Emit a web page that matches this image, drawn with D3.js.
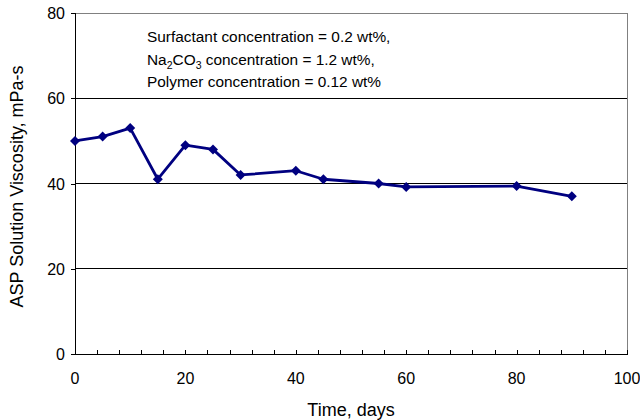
<!DOCTYPE html>
<html>
<head>
<meta charset="utf-8">
<script src="https://cdn.jsdelivr.net/npm/d3@7"></script>
<style>
  html, body { margin: 0; padding: 0; background: #fff; }
  svg { display: block; font-family: "Liberation Sans", Arial, sans-serif; }
</style>
</head>
<body>
<svg id="chart" width="640" height="420"></svg>
<script>
// Elapsed time (days) and measured ASP solution viscosity (mPa-s)
const days      = [0, 5, 10, 15, 20, 25, 30, 40, 45, 55, 60, 80, 90];
const viscosity = [50, 51, 53, 41, 49, 48, 42, 43, 41, 40, 39.2, 39.4, 37];

const xTicks = [0, 20, 40, 60, 80, 100];
const xMinorTicks = d3.range(0, 101, 4);
const yTicks = [0, 20, 40, 60, 80];

const notes = [
  [{t: "Surfactant concentration = 0.2 wt%,"}],
  [{t: "Na"}, {t: "2", sub: true}, {t: "CO"}, {t: "3", sub: true}, {t: " concentration = 1.2 wt%,"}],
  [{t: "Polymer concentration = 0.12 wt%"}]
];

const svg = d3.select("#chart");
const m = {left: 75, right: 13, top: 13, bottom: 66};
const W = 640, H = 420;

const x = d3.scaleLinear().domain([0, 100]).range([m.left, W - m.right]);
const y = d3.scaleLinear().domain([0, 80]).range([H - m.bottom, m.top]);

// horizontal gridlines
svg.append("g").selectAll("line")
  .data(yTicks.filter(d => d > 0 && d < 80))
  .join("line")
  .attr("x1", x(0)).attr("x2", x(100))
  .attr("y1", d => y(d)).attr("y2", d => y(d))
  .attr("stroke", "#000").attr("stroke-width", 1)
  .attr("shape-rendering", "crispEdges");

// plot frame (top and right)
svg.append("path")
  .attr("d", `M${x(0)},${y(80)}H${x(100)}V${y(0)}`)
  .attr("fill", "none").attr("stroke", "#808080").attr("stroke-width", 1)
  .attr("shape-rendering", "crispEdges");

// x axis: ticks point inward
const xAxis = svg.append("g")
  .attr("transform", `translate(0,${y(0)})`)
  .call(d3.axisBottom(x).tickValues(xMinorTicks).tickSize(-4).tickFormat(""));
xAxis.select(".domain").attr("stroke", "#000").attr("shape-rendering", "crispEdges");
xAxis.selectAll(".tick line").attr("stroke", "#000").attr("shape-rendering", "crispEdges");

svg.append("g").selectAll("text")
  .data(xTicks)
  .join("text")
  .attr("x", d => x(d)).attr("y", y(0) + 30)
  .attr("text-anchor", "middle")
  .attr("font-size", 16).attr("fill", "#000")
  .text(d => d);

// y axis
const yAxis = svg.append("g")
  .attr("transform", `translate(${x(0)},0)`)
  .call(d3.axisLeft(y).tickValues(yTicks).tickSize(4).tickFormat(""));
yAxis.select(".domain").attr("stroke", "#000").attr("shape-rendering", "crispEdges");
yAxis.selectAll(".tick line").attr("stroke", "#000").attr("shape-rendering", "crispEdges");

svg.append("g").selectAll("text")
  .data(yTicks)
  .join("text")
  .attr("x", x(0) - 10).attr("y", d => y(d) + 6)
  .attr("text-anchor", "end")
  .attr("font-size", 16).attr("fill", "#000")
  .text(d => d);

// axis titles
svg.append("text")
  .attr("x", (x(0) + x(100)) / 2).attr("y", 416)
  .attr("text-anchor", "middle")
  .attr("font-size", 18).attr("fill", "#000")
  .text("Time, days");

svg.append("text")
  .attr("transform", `translate(23,${(y(0) + y(80)) / 2 + 3}) rotate(-90)`)
  .attr("text-anchor", "middle")
  .attr("font-size", 18).attr("fill", "#000")
  .text("ASP Solution Viscosity, mPa-s");

// series line and square-diamond markers
const pts = days.map((d, i) => [d, viscosity[i]]);
svg.append("path")
  .datum(pts)
  .attr("d", d3.line().x(d => x(d[0])).y(d => y(d[1])))
  .attr("fill", "none").attr("stroke", "#000080").attr("stroke-width", 2.8)
  .attr("stroke-linejoin", "round");

const squareDiamond = {
  draw(ctx, size) {
    const r = Math.sqrt(size / 2);
    ctx.moveTo(0, -r); ctx.lineTo(r, 0); ctx.lineTo(0, r); ctx.lineTo(-r, 0); ctx.closePath();
  }
};
svg.append("g").selectAll("path")
  .data(pts)
  .join("path")
  .attr("transform", d => `translate(${x(d[0])},${y(d[1])})`)
  .attr("d", d3.symbol(squareDiamond, 50))
  .attr("fill", "#000080");

// annotation block
const noteG = svg.append("g");
notes.forEach((parts, i) => {
  const t = noteG.append("text")
    .attr("x", 147).attr("y", 42 + i * 22.5)
    .attr("font-size", 15.4).attr("fill", "#000");
  parts.forEach((p, j) => {
    const s = t.append("tspan").text(p.t);
    if (p.sub) s.attr("font-size", 10.5).attr("dy", 4);
    else if (j > 0 && parts[j - 1].sub) s.attr("dy", -4);
  });
});
</script>
</body>
</html>
